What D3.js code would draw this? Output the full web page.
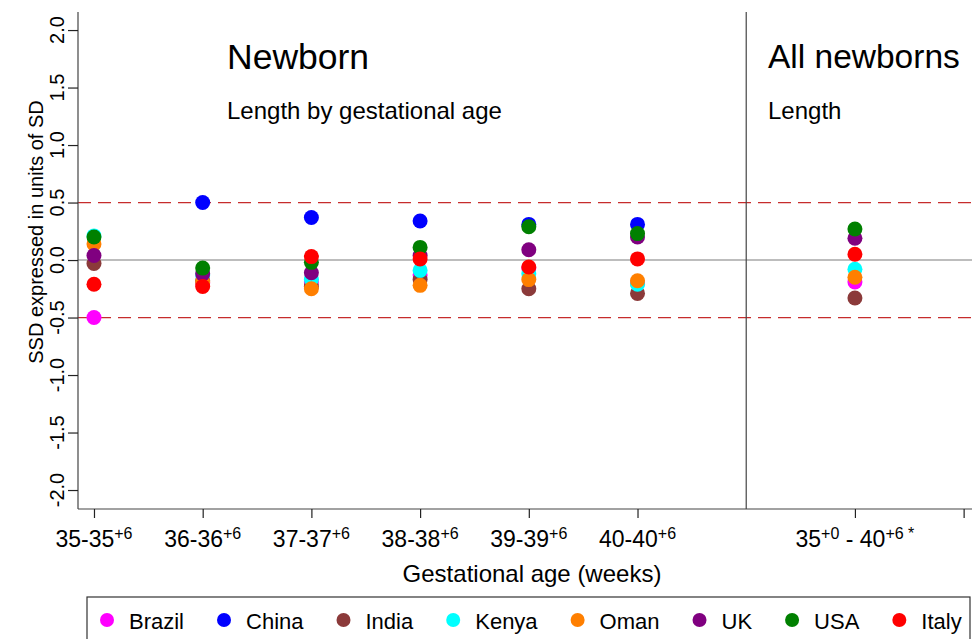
<!DOCTYPE html>
<html>
<head>
<meta charset="utf-8">
<script src="https://cdn.jsdelivr.net/npm/d3@7"></script>
<style>
body { margin: 0; background: #fff; }
text { font-family: "Liberation Sans", Arial, sans-serif; fill: #000; }
</style>
</head>
<body>
<div id="chartArea"></div>
<script>
///////////////////////////// DATA /////////////////////////////////////

var groups = ["35-35", "36-36", "37-37", "38-38", "39-39", "40-40", "All"];
var groupPos = [0, 1, 2, 3, 4, 5, 7];
// tick labels: normal, superscript, normal, superscript ...
var tickParts = [
    ["35-35", "+6"], ["36-36", "+6"], ["37-37", "+6"], ["38-38", "+6"],
    ["39-39", "+6"], ["40-40", "+6"], ["35", "+0", " - 40", "+6 *"]
];
var yTicks = [-2, -1.5, -1, -0.5, 0, 0.5, 1, 1.5, 2];
var refLines = [-0.5, 0.5];

var countries = ["Brazil", "China", "India", "Kenya", "Oman", "UK", "USA", "Italy"];
var colors = ["#ff00ff", "#0000ff", "#8b3a3a", "#00ffff", "#ff7f00", "#800080", "#008000", "#ff0000"];

var brazil = [-0.50, -0.20, -0.19, -0.13, -0.07, -0.20, -0.19];
var china  = [null, 0.50, 0.37, 0.34, 0.31, 0.31, null];
var india  = [-0.03, -0.18, -0.23, -0.17, -0.25, -0.29, -0.33];
var kenya  = [0.21, -0.13, -0.17, -0.09, -0.12, -0.21, -0.08];
var oman   = [0.14, -0.19, -0.25, -0.22, -0.17, -0.18, -0.15];
var uk     = [0.04, -0.12, -0.11, 0.04, 0.09, 0.20, 0.19];
var usa    = [0.20, -0.07, -0.02, 0.11, 0.29, 0.23, 0.27];
var italy  = [-0.21, -0.23, 0.03, 0.01, -0.06, 0.01, 0.05];
var seriesValues = [brazil, china, india, kenya, oman, uk, usa, italy];

///////////////////////////// CHART OPTIONS /////////////////////////////////////

var width = 972, height = 639;
var plot = { left: 78, right: 972, top: 12, bottom: 509 };

var x = d3.scaleLinear().domain([-0.147, 8.077]).range([plot.left, plot.right]);
var y = d3.scaleLinear().domain([-2.165, 2.157]).range([plot.bottom, plot.top]);

var svg = d3.select("#chartArea").append("svg")
    .attr("width", width)
    .attr("height", height);

// reference lines
svg.append("line")
    .attr("x1", plot.left).attr("x2", plot.right)
    .attr("y1", y(0)).attr("y2", y(0))
    .attr("stroke", "#bdbdbd")
    .attr("stroke-width", 2);

svg.selectAll(".refline").data(refLines).enter().append("line")
    .attr("class", "refline")
    .attr("x1", plot.left).attr("x2", plot.right)
    .attr("y1", function(d) { return y(d); })
    .attr("y2", function(d) { return y(d); })
    .attr("stroke", "#c62c2c")
    .attr("stroke-width", 1.3)
    .attr("stroke-dasharray", "13,7");

// separator between gestational groups and all newborns
svg.append("line")
    .attr("x1", x(6)).attr("x2", x(6))
    .attr("y1", plot.top).attr("y2", plot.bottom)
    .attr("stroke", "#444")
    .attr("stroke-width", 1.2);

///////////////////////////// AXES /////////////////////////////////////

var yAxis = svg.append("g")
    .attr("transform", "translate(" + plot.left + ",0)")
    .call(d3.axisLeft(y).tickValues(yTicks).tickSize(10).tickFormat(""));
yAxis.select(".domain").attr("d", "M0," + plot.top + "V" + plot.bottom).attr("stroke", "#444").attr("stroke-width", 1.2);
yAxis.selectAll(".tick line").attr("stroke", "#222").attr("stroke-width", 1.2);

svg.selectAll(".ylabel").data(yTicks).enter().append("text")
    .attr("class", "ylabel")
    .attr("x", 64)
    .attr("y", function(d) { return y(d); })
    .attr("transform", function(d) { return "rotate(-90,64," + y(d) + ")"; })
    .style("text-anchor", "middle")
    .style("font-size", "20px")
    .text(function(d) { return d.toFixed(1); });

var xAxis = svg.append("g")
    .attr("transform", "translate(0," + plot.bottom + ")")
    .call(d3.axisBottom(x).tickValues(groupPos.concat([8])).tickSize(9).tickFormat(""));
xAxis.select(".domain").attr("d", "M" + plot.left + ",0H" + plot.right).attr("stroke", "#444").attr("stroke-width", 1.2);
xAxis.selectAll(".tick line").attr("stroke", "#222").attr("stroke-width", 1.2);

// tick labels with superscripts
var xlabels = svg.selectAll(".xlabel").data(tickParts).enter().append("text")
    .attr("class", "xlabel")
    .attr("x", function(d, i) { return x(groupPos[i]); })
    .attr("y", 547)
    .style("text-anchor", "middle")
    .style("font-size", "23px");

xlabels.each(function(parts) {
    var t = d3.select(this);
    parts.forEach(function(p, k) {
        var sup = k % 2 == 1;
        t.append("tspan")
            .attr("dy", k == 0 ? 0 : (sup ? -8 : 8))
            .style("font-size", sup ? "16px" : "23px")
            .text(p);
    });
});

svg.append("text")
    .attr("x", 532)
    .attr("y", 582)
    .style("text-anchor", "middle")
    .style("font-size", "24px")
    .text("Gestational age (weeks)");

svg.append("text")
    .attr("transform", "rotate(-90)")
    .attr("x", -232)
    .attr("y", 43)
    .style("text-anchor", "middle")
    .style("font-size", "20px")
    .text("SSD expressed in units of SD");

// panel titles
svg.append("text").attr("x", 227).attr("y", 69).style("font-size", "35.5px").text("Newborn");
svg.append("text").attr("x", 227).attr("y", 119).style("font-size", "24px").text("Length by gestational age");
svg.append("text").attr("x", 768).attr("y", 68).style("font-size", "33.5px").text("All newborns");
svg.append("text").attr("x", 768).attr("y", 119).style("font-size", "24px").text("Length");

///////////////////////////// POINTS /////////////////////////////////////

seriesValues.forEach(function(vals, c) {
    var pts = vals.map(function(v, i) { return { pos: groupPos[i], v: v }; })
        .filter(function(d) { return d.v != null; });
    svg.append("g").selectAll("circle").data(pts).enter().append("circle")
        .attr("cx", function(d) { return x(d.pos); })
        .attr("cy", function(d) { return y(d.v); })
        .attr("r", 7.5)
        .style("fill", colors[c]);
});

///////////////////////////// LEGEND /////////////////////////////////////

svg.append("rect")
    .attr("x", 87).attr("y", 597)
    .attr("width", 970 - 87).attr("height", 60)
    .attr("fill", "none")
    .attr("stroke", "#333")
    .attr("stroke-width", 1.2);

var lx = 107;
countries.forEach(function(name, c) {
    svg.append("circle")
        .attr("cx", lx).attr("cy", 620)
        .attr("r", 7)
        .style("fill", colors[c]);
    var t = svg.append("text")
        .attr("x", lx + 22).attr("y", 629)
        .style("font-size", "22px")
        .text(name);
    lx = lx + 22 + t.node().getComputedTextLength() + 40;
});
</script>
</body>
</html>
